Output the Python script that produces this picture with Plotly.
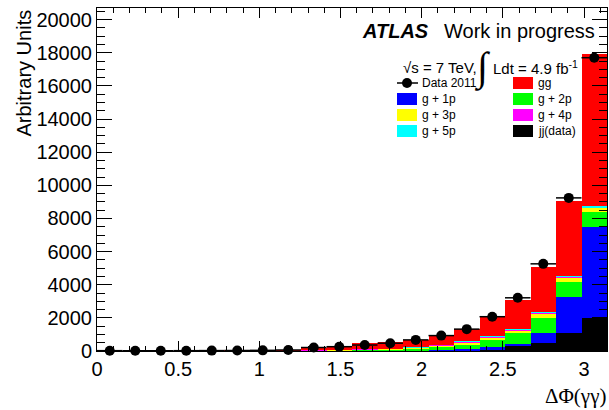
import numpy as np
import plotly.graph_objects as go

# ---------------- data ----------------
n_bins = 20
bin_width = np.pi / n_bins
bin_centers = (np.arange(n_bins) + 0.5) * bin_width

data_2011 = [20, 15, 15, 20, 25, 30, 40, 60, 210, 260, 360, 470, 670, 930, 1320, 2070, 3210, 5260, 9240, 17700]
jj_data = [0, 0, 0, 0, 0, 0, 0, 0, 0, 0, 0, 5, 10, 20, 40, 90, 280, 500, 1100, 2000]
g_1p = [0, 0, 0, 0, 0, 0, 0, 0, 2, 3, 5, 5, 15, 30, 60, 130, 160, 600, 2130, 5470]
g_2p = [0, 0, 0, 0, 0, 5, 10, 15, 30, 40, 60, 80, 130, 210, 320, 440, 620, 900, 950, 920]
g_3p = [0, 0, 0, 0, 2, 10, 15, 20, 20, 25, 30, 40, 60, 100, 120, 170, 200, 270, 260, 240]
g_4p = [0, 0, 0, 0, 0, 3, 5, 5, 10, 10, 15, 15, 15, 20, 30, 50, 40, 60, 80, 60]
g_5p = [0, 0, 0, 0, 0, 0, 0, 0, 0, 0, 0, 0, 5, 5, 5, 5, 10, 10, 20, 60]
gg = [0, 0, 0, 2, 5, 22, 20, 20, 138, 242, 350, 395, 415, 515, 725, 1145, 1790, 2740, 4490, 9150]

x_tick_vals = [0, 0.5, 1, 1.5, 2, 2.5, 3]
x_tick_text = ["0", "0.5", "1", "1.5", "2", "2.5", "3"]
y_tick_vals = [0, 2000, 4000, 6000, 8000, 10000, 12000, 14000, 16000, 18000, 20000]
y_tick_text = ["0", "2000", "4000", "6000", "8000", "10000", "12000", "14000", "16000", "18000", "20000"]

stack_names = ["jj(data)", "g + 1p", "g + 2p", "g + 3p", "g + 4p", "g + 5p", "gg"]
stack_values = [jj_data, g_1p, g_2p, g_3p, g_4p, g_5p, gg]
stack_colors = ["#000000", "#0000FF", "#00FF00", "#FFFF00", "#FF00FF", "#00FFFF", "#FF0000"]

# ---------------- geometry (pixels) ----------------
W, H = 609, 410
L, R, T, B = 97, 607, 8, 351
PW, PH = R - L, B - T

def px(x):
    return (x - L) / PW

def py(y):
    return (B - y) / PH

SANS = "Liberation Sans, Arial, Helvetica, sans-serif"
SERIF = "Liberation Serif, Times New Roman, serif"

fig = go.Figure()

for name, vals, col in zip(stack_names, stack_values, stack_colors):
    fig.add_trace(go.Bar(
        x=bin_centers, y=vals, width=bin_width, name=name,
        marker=dict(color=col, line=dict(width=0)),
        showlegend=False,
    ))

fig.add_trace(go.Scatter(
    x=bin_centers, y=data_2011, mode="markers", name="Data 2011",
    marker=dict(color="black", size=10, symbol="circle"),
    error_x=dict(type="constant", value=bin_width / 2, width=0, thickness=1.5, color="black"),
    cliponaxis=False, showlegend=False,
))

fig.update_layout(
    width=W, height=H,
    margin=dict(l=L, r=W - R, t=T, b=H - B),
    paper_bgcolor="white", plot_bgcolor="white",
    barmode="stack", bargap=0,
    xaxis=dict(
        range=[0, np.pi], tickmode="array", tickvals=x_tick_vals, ticktext=x_tick_text,
        ticks="inside", ticklen=10, tickwidth=1, tickcolor="black",
        showline=True, linecolor="black", linewidth=1, mirror="ticks",
        showgrid=False, zeroline=False,
        minor=dict(ticks="inside", ticklen=5, tickwidth=1, tickcolor="black",
                   tickmode="linear", tick0=0, dtick=0.1, showgrid=False),
        tickfont=dict(family=SANS, size=20, color="black"),
    ),
    yaxis=dict(
        range=[0, 20700], tickmode="array", tickvals=y_tick_vals, ticktext=y_tick_text,
        ticks="inside", ticklen=15, tickwidth=1, tickcolor="black",
        showline=True, linecolor="black", linewidth=1, mirror="ticks",
        showgrid=False, zeroline=False,
        minor=dict(ticks="inside", ticklen=8, tickwidth=1, tickcolor="black",
                   tickmode="linear", tick0=0, dtick=500, showgrid=False),
        tickfont=dict(family=SANS, size=20, color="black"),
    ),
)

ann = []
# axis titles
ann.append(dict(xref="paper", yref="paper", x=px(608), y=py(396), xanchor="right", yanchor="middle",
                text="ΔΦ(γγ)", showarrow=False, font=dict(family=SERIF, size=21, color="black")))
ann.append(dict(xref="paper", yref="paper", x=px(23), y=py(8), xanchor="center", yanchor="top",
                text="Arbitrary Units", textangle=-90, showarrow=False,
                font=dict(family=SANS, size=20, color="black")))
# ATLAS label
ann.append(dict(xref="paper", yref="paper", x=px(360), y=py(31), xanchor="left", yanchor="middle",
                text="<b><i>ATLAS</i></b>", showarrow=False, font=dict(family=SANS, size=20, color="black")))
ann.append(dict(xref="paper", yref="paper", x=px(442), y=py(31), xanchor="left", yanchor="middle",
                text="Work in progress", showarrow=False, font=dict(family=SANS, size=20, color="black")))
ann.append(dict(xref="paper", yref="paper", x=px(401), y=py(67), xanchor="left", yanchor="middle",
                text="√s = 7 TeV,", showarrow=False, font=dict(family=SANS, size=15, color="black")))
ann.append(dict(xref="paper", yref="paper", x=px(482), y=py(67), xanchor="center", yanchor="middle",
                text="∫", showarrow=False, font=dict(family=SERIF, size=40, color="black")))
ann.append(dict(xref="paper", yref="paper", x=px(491), y=py(67), xanchor="left", yanchor="middle",
                text="Ldt = 4.9 fb<sup>-1</sup>", showarrow=False, font=dict(family=SANS, size=15, color="black")))

# legend (manual, two columns)
legend_rows = [
    ("Data 2011", None, 397, 83),
    ("gg", "#FF0000", 513, 83),
    ("g + 1p", "#0000FF", 397, 99),
    ("g + 2p", "#00FF00", 513, 99),
    ("g + 3p", "#FFFF00", 397, 115),
    ("g + 4p", "#FF00FF", 513, 115),
    ("g + 5p", "#00FFFF", 397, 131),
    ("jj(data)", "#000000", 513, 131),
]
shapes = []
for label, col, x0, yc in legend_rows:
    if col is None:
        shapes.append(dict(type="line", xref="paper", yref="paper", x0=px(397), x1=px(418),
                           y0=py(yc), y1=py(yc), line=dict(color="black", width=1.5)))
        shapes.append(dict(type="circle", xref="paper", yref="paper", x0=px(402), x1=px(412),
                           y0=py(yc + 5), y1=py(yc - 5), fillcolor="black", line=dict(color="black", width=0)))
    else:
        shapes.append(dict(type="rect", xref="paper", yref="paper", x0=px(x0), x1=px(x0 + 20),
                           y0=py(yc + 6), y1=py(yc - 6), fillcolor=col, line=dict(width=0)))
    ann.append(dict(xref="paper", yref="paper", x=px(x0 + 23), y=py(yc), xanchor="left", yanchor="middle",
                    text=label, showarrow=False, font=dict(family=SANS, size=12, color="black")))

fig.update_layout(annotations=ann, shapes=shapes)

fig.write_html("out.html")
